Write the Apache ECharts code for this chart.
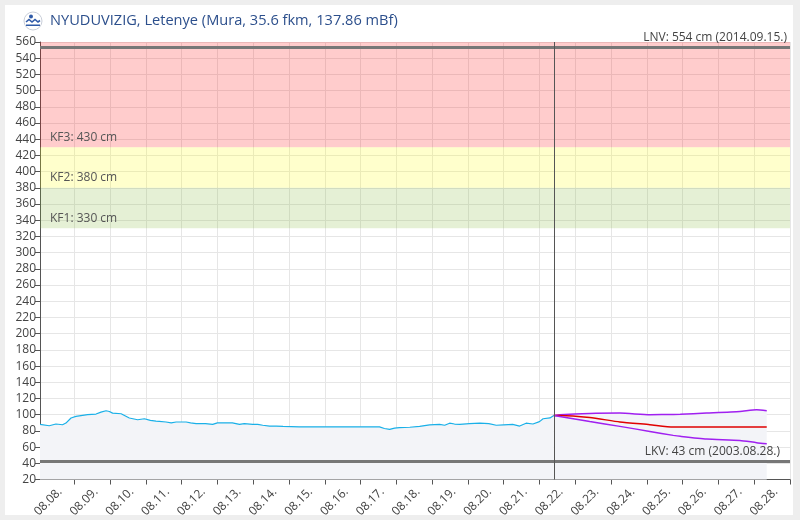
<!DOCTYPE html>
<html>
<head>
<meta charset="utf-8">
<script src="https://cdn.jsdelivr.net/npm/echarts@6/dist/echarts.min.js"></script>
<style>
html,body{margin:0;padding:0;background:#eeeeee;}
#card{position:absolute;left:5px;top:5px;width:788px;height:510px;background:#fff;}
#chart{position:absolute;left:0;top:0;width:800px;height:520px;}
</style>
</head>
<body>
<div id="card"></div>
<div id="chart"></div>
<script>
// ---- data (hours relative to 08.08. 00:00) ----
const titleText = 'NYUDUVIZIG, Letenye (Mura, 35.6 fkm, 137.86 mBf)';
const obsHours = [-23,-22.4,-16.8,-12.3,-7.9,-5.6,-2.2,1.1,8.9,14.6,17.9,21.3,23.5,25.7,31.4,36.9,42.5,47,51,54.8,57,61.5,65,68.3,75,78,81.7,88,92.8,96,106,110.8,114,119.7,123,126.4,131,135.4,140,151,170,190,204.7,208,211.5,214.8,218,225,231.6,238.3,245,248.4,251.7,255,258.5,265,272,278,283,288,294,298.7,303,307.6,312,314.4,319,321.6];
const obsValues = [88,87.6,86.4,88.5,87.6,89.7,95.9,97.9,100,100.8,103.2,104.9,104,102,101.2,95.9,93.8,95,93,92,91.7,91,90,91,91,90,89,89,88,90,90,88,89,88,88,87,86,86,85.5,85,85,85,85,83,82,83.5,84,84.5,85.7,87.5,88,87,89.5,88.5,88,89,89.5,89,87,87.5,88,86,89.5,88.5,91.5,95,96,99];
const fcHours = [321.6,325.6,345.7,365.9,386,401.7,406.4,424,446.4,457.6,464.4];
const fcUpper = [99,100,101.6,102,100,100.3,100.5,102,104,106,105];
const fcMid   = [99,99.1,96.6,91,87.7,84.8,84.8,84.8,84.8,84.8,84.8];
const fcLower = [99,97.9,91.7,85.6,79.4,74.5,73.3,70,68.3,65.5,64.3];
const nowHour = 321.6;
const bands = [
  {from:430, to:560, name:'KF3: 430 cm', color:'rgba(255,0,0,0.2)'},
  {from:380, to:430, name:'KF2: 380 cm', color:'rgba(255,255,0,0.2)'},
  {from:330, to:380, name:'KF1: 330 cm', color:'rgba(125,180,45,0.2)'}
];
const lnv = {value:554, text:'LNV: 554 cm (2014.09.15.)'};
const lkv = {value:43, text:'LKV: 43 cm (2003.08.28.)'};
const xMinHour = -23, xMaxHour = 480;
const yMin = 20, yMax = 560, yStep = 20;

// ---- build ----
const base = new Date(2024, 7, 8, 0, 0, 0).getTime();
const H = 3600 * 1000;
const ts = h => base + h * H;
const pair = (hs, vs) => hs.map((h, i) => [ts(h), vs[i]]);
const pad = n => (n < 10 ? '0' : '') + n;
const fill = '#f3f4f8';

const chart = echarts.init(document.getElementById('chart'), null, {renderer:'canvas'});
chart.setOption({
  animation: false,
  backgroundColor: 'transparent',
  textStyle: {fontFamily: 'Open Sans'},
  graphic: [
    {type:'circle', shape:{cx:33, cy:21, r:9}, style:{fill:'#fff', stroke:'#c8cdd8', lineWidth:1}},
    {type:'polyline', shape:{points:[[26,22],[29,19.5],[32,22],[35,19.5],[38,22],[40,20.5]]}, style:{stroke:'#2f5aa8', lineWidth:1.6, fill:null}},
    {type:'circle', shape:{cx:31, cy:16.5, r:2}, style:{fill:'#2f5aa8'}},
    {type:'rect', shape:{x:26, y:24.5, width:14, height:1.5}, style:{fill:'#2f5aa8'}},
    {type:'text', left:50, top:13, style:{text:titleText, fill:'#2c4f8c', fontSize:14.6, fontFamily:'Open Sans'}}
  ],
  grid: {left:40, right:10, top:42, bottom:40},
  xAxis: {
    type: 'time',
    min: ts(xMinHour), max: ts(xMaxHour),
    minInterval: 24 * H, maxInterval: 24 * H,
    axisLine: {lineStyle:{color:'#555', width:1}},
    axisTick: {show:true, length:5, lineStyle:{color:'#555'}},
    splitLine: {show:true, lineStyle:{color:'#e6e6e6'}},
    axisLabel: {
      rotate: 45, color:'#444', fontSize:12, margin:6, hideOverlap:false,
      showMaxLabel:true, showMinLabel:false,
      padding:[0,13,14,0],
      formatter: v => { const d = new Date(v); return pad(d.getMonth()+1) + '.' + pad(d.getDate()) + '.'; }
    }
  },
  yAxis: {
    type: 'value', min: yMin, max: yMax, interval: yStep,
    axisLine: {show:true, lineStyle:{color:'#555', width:1}},
    axisTick: {show:true, length:5, lineStyle:{color:'#555'}},
    splitLine: {show:true, lineStyle:{color:'#e6e6e6'}},
    axisLabel: {color:'#444', fontSize:12, margin:4}
  },
  series: [
    {
      type:'line', data: pair(obsHours, obsValues), symbol:'none',
      lineStyle:{color:'#1ab0e8', width:1.2}, itemStyle:{color:'#1ab0e8'},
      areaStyle:{color:fill, origin:'start', opacity:1},
      markArea: {
        silent:true,
        data: bands.map(b => [
          {yAxis:b.from, itemStyle:{color:b.color}, label:{show:true, position:'insideBottomLeft', formatter:b.name, color:'#555', fontSize:12, distance:4, offset:[6,0]}},
          {yAxis:b.to}
        ])
      },
      markLine: {
        silent:true, symbol:['none','none'],
        data: [
          {yAxis:lnv.value, lineStyle:{color:'#777', width:3, type:'solid'}, label:{show:true, position:'insideEndTop', formatter:lnv.text, color:'#444', fontSize:12, distance:3}},
          {yAxis:lkv.value, lineStyle:{color:'#777', width:3, type:'solid'}, label:{show:true, position:'insideEndTop', formatter:lkv.text, color:'#444', fontSize:12, distance:[10,3]}},
          {xAxis:ts(nowHour), lineStyle:{color:'#555', width:1, type:'solid'}, label:{show:false}}
        ]
      },
      z: 3
    },
    {
      type:'line', data: pair(fcHours, fcUpper), symbol:'none', smooth:0.2,
      lineStyle:{color:'#a020f0', width:1.5}, itemStyle:{color:'#a020f0'},
      areaStyle:{color:fill, origin:'start', opacity:1}, z:2
    },
    {
      type:'line', data: pair(fcHours, fcMid), symbol:'none', smooth:0.2,
      lineStyle:{color:'#e00000', width:1.5}, itemStyle:{color:'#e00000'}, z:4
    },
    {
      type:'line', data: pair(fcHours, fcLower), symbol:'none', smooth:0.2,
      lineStyle:{color:'#a020f0', width:1.5}, itemStyle:{color:'#a020f0'}, z:4
    }
  ]
});
</script>
</body>
</html>
